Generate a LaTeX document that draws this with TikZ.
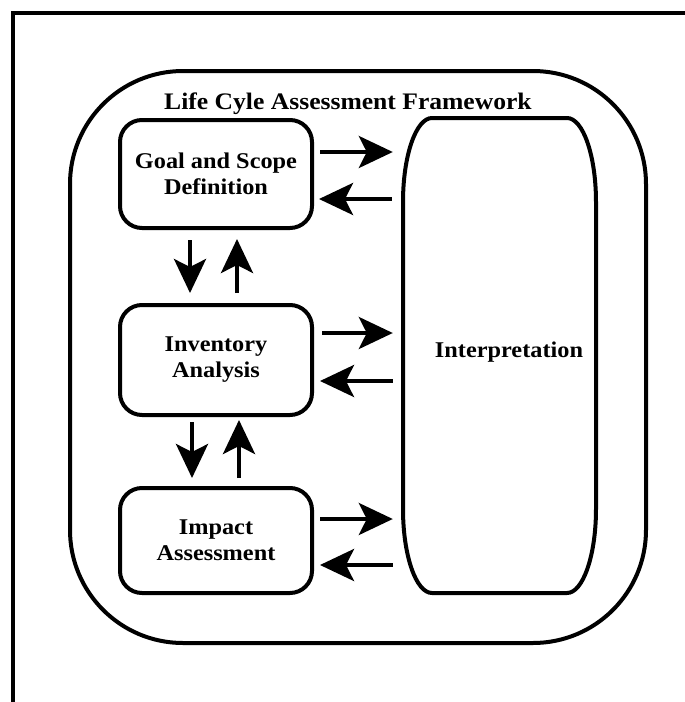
\documentclass[tikz,border=0pt]{standalone}
\usepackage{fontspec}
\newfontfamily\lcafont{Liberation Serif}[FakeStretch=1.08]
\usetikzlibrary{arrows.meta,calc}

\tikzset{
  box/.style={draw, line width=4pt, rounded corners=22pt, minimum width=192pt, minimum height=108pt, inner sep=0pt, align=center, font=\lcafont\bfseries\fontsize{22.5}{26}\selectfont},
  arr/.style={line width=4pt, -{Stealth[length=34pt,width=32pt,inset=8pt]}},
  lbl/.style={font=\lcafont\bfseries\fontsize{22.5}{26}\selectfont, anchor=base, inner sep=0pt}
}

\begin{document}
\begin{tikzpicture}[x=1pt,y=-1pt]
\useasboundingbox (0,0) rectangle (685,702);

\draw [line width=4.5pt] (13,702) -- (13,13) -- (685,13);

\node [draw, line width=4pt, rounded corners=113pt, minimum width=576pt, minimum height=572pt, inner sep=0pt] (lca) at (358,357) {};
\node [lbl, font=\lcafont\bfseries\fontsize{23.7}{26}\selectfont] (title) at (348,109) {Life Cyle Assessment Framework};

\node [box] (goal) at (216,174) {Goal and Scope\\Definition};
\node [box, minimum height=110pt] (inv) at (216,360) {Inventory\\Analysis};
\node [box, minimum height=105pt] (impact) at (216,540.5) {Impact\\Assessment};

\node [minimum width=193pt, minimum height=475pt, inner sep=0pt] (interp) at (499.5,355.5) {};
\draw [line width=4pt] (432,118) -- (567,118) .. controls (583,118) and (596,155.6) .. (596,202) -- (596,509) .. controls (596,555.4) and (583,593) .. (567,593) -- (432,593) .. controls (416,593) and (403,555.4) .. (403,509) -- (403,202) .. controls (403,155.6) and (416,118) .. (432,118) -- cycle;
\node [lbl] (interptext) at (509,357) {Interpretation};

% % % % % % % % % % % % % % % % % % % % % % % % % %

\draw [arr] ($(goal.east)+(6,-22)$) -- ($(goal.east -| interp.west)+(-10,-22)$);
\draw [arr] ($(goal.east -| interp.west)+(-11,25)$) -- ($(goal.east)+(5,25)$);
\draw [arr] ($(inv.east)+(8,-27)$) -- ($(inv.east -| interp.west)+(-10,-27)$);
\draw [arr] ($(inv.east -| interp.west)+(-10,21)$) -- ($(inv.east)+(6,21)$);
\draw [arr] ($(impact.east)+(6,-21.5)$) -- ($(impact.east -| interp.west)+(-10,-21.5)$);
\draw [arr] ($(impact.east -| interp.west)+(-10,24.5)$) -- ($(impact.east)+(6,24.5)$);

\draw [arr] ($(goal.south)+(-26,10)$) -- ($(inv.north)+(-26,-10)$);
\draw [arr] ($(inv.north)+(21,-10)$) -- ($(goal.south)+(21,9)$);
\draw [arr] ($(inv.south)+(-24,5)$) -- ($(impact.north)+(-24,-8)$);
\draw [arr] ($(impact.north)+(23,-8)$) -- ($(inv.south)+(23,3)$);
\end{tikzpicture}
\end{document}
